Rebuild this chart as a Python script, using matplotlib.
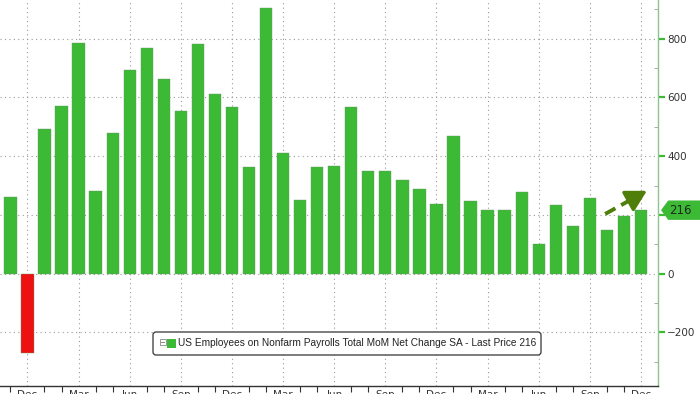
import matplotlib
matplotlib.use("Agg")
import matplotlib.pyplot as plt
from matplotlib.patches import Polygon, FancyBboxPatch, Rectangle
from matplotlib.ticker import FixedLocator, FixedFormatter, MultipleLocator
import matplotlib.transforms as mtransforms

# ---------------- data ----------------
months = ["2020-11", "2020-12",
          "2021-01", "2021-02", "2021-03", "2021-04", "2021-05", "2021-06",
          "2021-07", "2021-08", "2021-09", "2021-10", "2021-11", "2021-12",
          "2022-01", "2022-02", "2022-03", "2022-04", "2022-05", "2022-06",
          "2022-07", "2022-08", "2022-09", "2022-10", "2022-11", "2022-12",
          "2023-01", "2023-02", "2023-03", "2023-04", "2023-05", "2023-06",
          "2023-07", "2023-08", "2023-09", "2023-10", "2023-11", "2023-12"]
values = [260, -269,
          493, 572, 784, 282, 479, 694, 768, 663, 555, 781, 613, 567,
          362, 905, 412, 251, 362, 367, 567, 349, 349, 320, 287, 236,
          470, 246, 216, 216, 279, 102, 234, 161, 259, 147, 197, 216]
month_names = ["Jan", "Feb", "Mar", "Apr", "May", "Jun",
               "Jul", "Aug", "Sep", "Oct", "Nov", "Dec"]
y_ticks = [-200, 0, 200, 400, 600, 800]
last_price = 216
legend_text = "US Employees on Nonfarm Payrolls Total MoM Net Change SA - Last Price 216"
arrow_start = (34.9, 203)
arrow_end = (37.35, 282)

GREEN = "#3cb935"
RED = "#ee1111"
ARROW = "#4f7f0a"

W, H = 700, 394
fig = plt.figure(figsize=(W / 100, H / 100), dpi=100)
fig.patch.set_facecolor("white")
ax = fig.add_axes([0, 8 / H, 658 / W, 386 / H])
ax.set_facecolor("white")

x = list(range(len(months)))
colors = [GREEN if v >= 0 else RED for v in values]
bars = ax.bar(x, values, width=0.72, color=colors, edgecolor="#6a9a6a",
              linewidth=0.3, zorder=2)

ax.set_xlim(-0.61, 38.0)
ax.set_ylim(-383, 932)

# spines
for s in ["left", "top"]:
    ax.spines[s].set_visible(False)
ax.spines["right"].set_color("#8cc68c")
ax.spines["right"].set_linewidth(1.0)
ax.spines["bottom"].set_color("#333333")
ax.spines["bottom"].set_linewidth(1.0)

# x axis
qpos = [i for i, m in enumerate(months) if int(m[5:]) in (3, 6, 9, 12)]
qlab = [month_names[int(months[i][5:]) - 1] for i in qpos]
ax.xaxis.set_major_locator(FixedLocator(qpos))
ax.xaxis.set_major_formatter(FixedFormatter(qlab))
ax.xaxis.set_minor_locator(FixedLocator([i for i in x if i not in qpos]))
ax.tick_params(axis="x", which="major", length=0, pad=3, labelsize=7.5,
               labelcolor="#333333")
ax.tick_params(axis="x", which="minor", length=4, width=0.8, color="#333333",
               direction="out")

# y axis (right)
ax.yaxis.tick_right()
ax.yaxis.set_major_locator(FixedLocator(y_ticks))
ax.yaxis.set_minor_locator(MultipleLocator(100))
ax.tick_params(axis="y", which="major", length=5, width=1.6, color="#3cb935",
               direction="out", pad=1.5, labelsize=7.5, labelcolor="#333333")
ax.tick_params(axis="y", which="minor", length=3, width=0.7, color="#aaaaaa",
               direction="in")

# grid
ax.set_axisbelow(True)
ax.grid(True, which="major", linestyle=(0, (1, 3)), color="#999999",
        linewidth=0.8)

# trend arrow: dashed shaft + solid head
f = 0.72
mid = (arrow_start[0] + f * (arrow_end[0] - arrow_start[0]),
       arrow_start[1] + f * (arrow_end[1] - arrow_start[1]))
ax.plot([arrow_start[0], mid[0]], [arrow_start[1], mid[1]], color=ARROW,
        lw=2.8, dashes=(3.0, 1.7), solid_capstyle="butt",
        dash_capstyle="butt", zorder=5)
ax.annotate("", xy=arrow_end, xytext=mid,
            arrowprops=dict(arrowstyle="-|>,head_length=0.9,head_width=0.5",
                            mutation_scale=14, color=ARROW, lw=2.4,
                            shrinkA=0, shrinkB=0),
            zorder=5)

# last price tag
bt = mtransforms.blended_transform_factory(ax.transAxes, ax.transData)
hh = 33
tag = Polygon([(1.0046, last_price), (1.0155, last_price + hh),
               (1.08, last_price + hh), (1.08, last_price - hh),
               (1.0155, last_price - hh)], closed=True, transform=bt,
              facecolor=GREEN, edgecolor="none", clip_on=False, zorder=10)
ax.add_patch(tag)
ax.text(1.017, last_price, str(last_price), transform=bt, ha="left",
        va="center", fontsize=8.5, color="#1d2b1d", clip_on=False, zorder=11)

# legend box (pixel coordinates)
pix = mtransforms.Affine2D().scale(1 / W, 1 / H) + fig.transFigure
def py(y_top):
    return H - y_top

box = FancyBboxPatch((153, py(355)), 388, 23,
                     boxstyle="round,pad=0,rounding_size=3",
                     transform=pix, facecolor="white", edgecolor="#333333",
                     linewidth=0.9, zorder=20)
fig.add_artist(box)
icon = Rectangle((159.5, py(345)), 6, 6, transform=pix, facecolor="white",
                 edgecolor="#999999", linewidth=0.7, zorder=21)
fig.add_artist(icon)
fig.add_artist(plt.Line2D([161, 164], [py(342), py(342)], transform=pix,
                          color="#888888", linewidth=0.7, zorder=22))
sq = Rectangle((167, py(347.5)), 9, 9, transform=pix, facecolor=GREEN,
               edgecolor="none", zorder=21)
fig.add_artist(sq)
fig.text(178, py(343.5), legend_text, transform=pix, ha="left", va="center",
         fontsize=7.3, family=["Liberation Sans", "DejaVu Sans"],
         color="#222222", zorder=22)

fig.savefig("out.png", dpi=100, facecolor="white")
